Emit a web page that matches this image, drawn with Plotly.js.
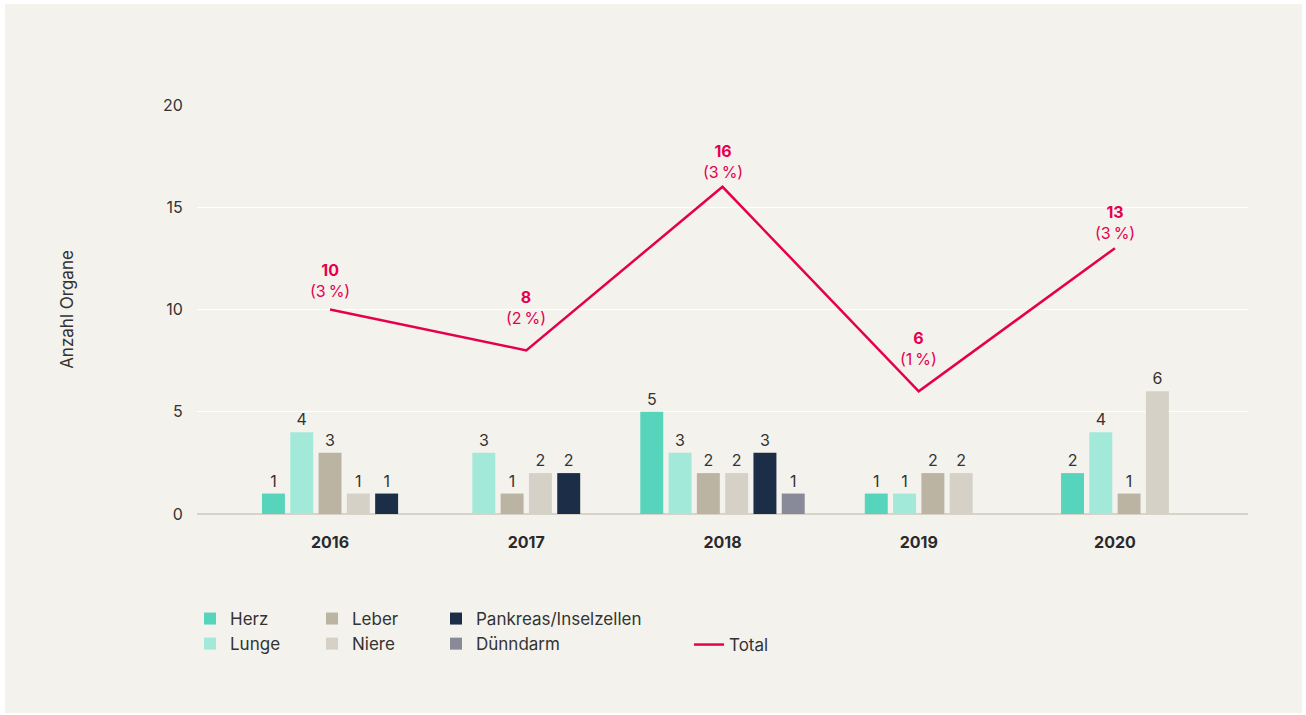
<!DOCTYPE html>
<html>
<head>
<meta charset="utf-8">
<script src="https://cdn.plot.ly/plotly-3.0.1.min.js"></script>
<style>
  html, body { margin: 0; padding: 0; background: #ffffff; }
  #chart { position: absolute; left: 5px; top: 4px; width: 1297px; height: 709px; }
</style>
</head>
<body>
<div id="chart"></div>
<script>
// ---- data ----
const years = ['2016', '2017', '2018', '2019', '2020'];
const seriesNames = ['Herz', 'Lunge', 'Leber', 'Niere', 'Pankreas/Inselzellen', 'Dünndarm'];
const herz      = [1, 0, 5, 1, 2];
const lunge     = [4, 3, 3, 1, 4];
const leber     = [3, 1, 2, 2, 1];
const niere     = [1, 2, 2, 2, 6];
const pankreas  = [1, 2, 3, 0, 0];
const duenndarm = [0, 0, 1, 0, 0];
const total     = [10, 8, 16, 6, 13];
const totalPct  = [3, 2, 3, 1, 3];

// ---- styles ----
const colors = ['#57d5bc', '#a2e9d9', '#bbb4a2', '#d6d1c6', '#1c2d48', '#888a99'];
const totalColor = '#e5004e';
const legendOf = ['legend', 'legend', 'legend2', 'legend2', 'legend3', 'legend3'];
const FONT = 'Inter, "Noto Sans", sans-serif';
const TXT = '#333333';

const allSeries = [herz, lunge, leber, niere, pankreas, duenndarm];
const step = 0.1442, barW = 0.117;

// compute positions: only non-zero bars are drawn, centred on each year
const xs = allSeries.map(() => []);
const ys = allSeries.map(() => []);
years.forEach((yr, i) => {
  const present = [];
  allSeries.forEach((s, k) => { if (s[i] > 0) present.push(k); });
  const n = present.length;
  present.forEach((k, j) => {
    xs[k].push(i + (j - (n - 1) / 2) * step);
    ys[k].push(allSeries[k][i]);
  });
});

const traces = allSeries.map((s, k) => ({
  type: 'bar',
  name: seriesNames[k],
  x: xs[k],
  y: ys[k],
  width: barW,
  marker: { color: colors[k] },
  text: ys[k].map(String),
  textposition: 'outside',
  textfont: { family: FONT, size: 16, color: TXT },
  cliponaxis: false,
  legend: legendOf[k],
  hoverinfo: 'x+y+name'
}));

traces.push({
  type: 'scatter',
  mode: 'lines',
  name: 'Total',
  x: years.map((y, i) => i),
  y: total,
  line: { color: totalColor, width: 2.5 },
  cliponaxis: false,
  legend: 'legend4'
});

// labels above the Total line; lifted further at valleys so they clear the line
const totalLabels = total.map((t, i) => {
  const prev = i > 0 ? total[i - 1] : null;
  const next = i < total.length - 1 ? total[i + 1] : null;
  const isValley = (prev === null || prev > t) && (next === null || next > t);
  const prevLower = prev !== null && prev < t;
  return {
    x: i,
    y: t,
    xref: 'x',
    yref: 'y',
    text: '<b>' + t + '</b><br>(' + totalPct[i] + '\u2009%)',
    showarrow: false,
    yanchor: 'bottom',
    yshift: isValley ? 20 : (prevLower ? 3 : 7),
    font: { family: FONT, size: 16, color: totalColor }
  };
});

const W = 1051, H = 409, L = 192, T = 101;
const px = v => (v - L) / W;
const py = v => (T + H - v) / H;

const legendBase = {
  orientation: 'v',
  xanchor: 'left',
  yanchor: 'top',
  bgcolor: 'rgba(0,0,0,0)',
  font: { family: FONT, size: 17, color: TXT },
  tracegroupgap: 0,
  itemclick: false,
  itemdoubleclick: false
};

const layout = {
  width: 1297,
  height: 709,
  paper_bgcolor: '#f4f2ed',
  plot_bgcolor: '#f4f2ed',
  margin: { l: L, r: 1297 - L - W, t: T, b: 709 - T - H },
  barmode: 'overlay',
  font: { family: FONT, color: TXT },
  annotations: totalLabels,
  xaxis: {
    range: [-0.678, 4.678],
    tickvals: years.map((y, i) => i),
    ticktext: years,
    tickfont: { family: FONT, size: 16, color: '#2a2a2a', weight: 'bold' },
    ticks: 'outside',
    ticklen: 14,
    tickcolor: 'rgba(0,0,0,0)',
    showgrid: false,
    zeroline: false,
    showline: false,
    fixedrange: true
  },
  yaxis: {
    range: [0, 20],
    tickvals: [0, 5, 10, 15, 20],
    tickfont: { family: FONT, size: 16, color: TXT },
    ticks: 'outside',
    ticklen: 10,
    tickcolor: 'rgba(0,0,0,0)',
    showgrid: true,
    gridcolor: '#ffffff',
    gridwidth: 1,
    zeroline: true,
    zerolinecolor: '#d8d3c9',
    zerolinewidth: 2,
    title: { text: 'Anzahl Organe', font: { family: FONT, size: 17, color: TXT }, standoff: 84 },
    automargin: false,
    fixedrange: true
  },
  showlegend: true,
  legend:  Object.assign({}, legendBase, { x: px(185), y: py(597) }),
  legend2: Object.assign({}, legendBase, { x: px(307), y: py(597) }),
  legend3: Object.assign({}, legendBase, { x: px(431), y: py(597) }),
  legend4: Object.assign({}, legendBase, { x: px(684), y: py(623) })
};

Plotly.newPlot('chart', traces, layout, { displayModeBar: false });
</script>
</body>
</html>
